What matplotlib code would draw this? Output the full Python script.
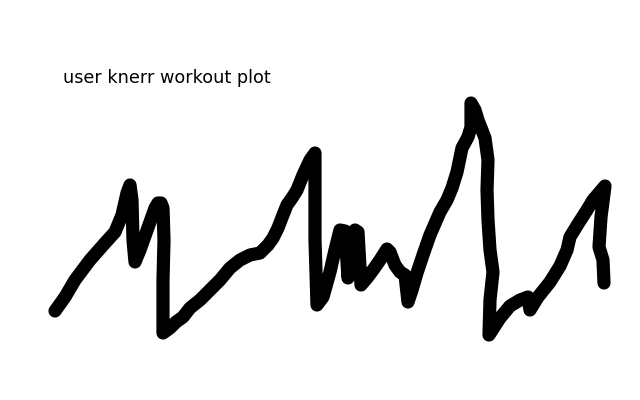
import matplotlib
matplotlib.use("Agg")
import matplotlib.pyplot as plt

title = "user knerr workout plot"

# elapsed time (arbitrary units) and effort level
time = [0, 10, 20, 35, 50, 60, 67, 72, 75, 77, 78, 80, 85, 95, 100, 103, 106, 108, 109,
        108, 108, 115, 121, 128, 135, 145, 155, 165, 175, 185, 195, 205, 213, 218,
        223, 228, 232, 237, 242, 248, 255, 260, 260, 260, 262, 268, 275, 280, 285,
        290, 293, 297, 300, 303, 306, 312, 318, 325, 332, 335, 340, 345, 350, 353,
        357, 362, 368, 375, 385, 392, 397, 402, 407, 413, 416, 416, 420, 423, 430,
        433, 432, 433, 435, 438, 435, 434, 445, 455, 465, 473, 475, 483, 495, 505,
        512, 515, 523, 532, 538, 550, 546, 544, 548, 549]
effort = [89, 103, 120, 140, 157, 168, 185, 207, 215, 200, 160, 138, 150, 178, 192,
          197, 197, 192, 160, 120, 67, 72, 78, 83, 92, 100, 110, 120, 132, 140, 145, 147,
          155, 162, 172, 185, 195, 202, 210, 225, 240, 247, 200, 160, 95, 103, 128,
          150, 170, 169, 122, 150, 170, 168, 115, 122, 130, 140, 151, 148, 135, 128,
          125, 98, 110, 127, 145, 165, 188, 200, 212, 228, 252, 263, 273, 297, 290,
          280, 262, 240, 210, 180, 150, 128, 100, 65, 82, 94, 100, 103, 90, 103, 118,
          134, 150, 163, 176, 190, 200, 214, 183, 153, 140, 117]

fig = plt.figure(figsize=(6.4, 4.0), dpi=100)
ax = fig.add_axes([0, 0, 1, 1])
ax.plot(time, effort, color="black", lw=9.5, solid_capstyle="round",
        solid_joinstyle="round")
ax.set_xlim(-55, 585)
ax.set_ylim(0, 400)
ax.axis("off")
fig.text(63 / 640, 1 - 83 / 400, title, fontsize=12.7, ha="left", va="baseline",
         family="DejaVu Sans")
fig.savefig("out.png", dpi=100, facecolor="white")
